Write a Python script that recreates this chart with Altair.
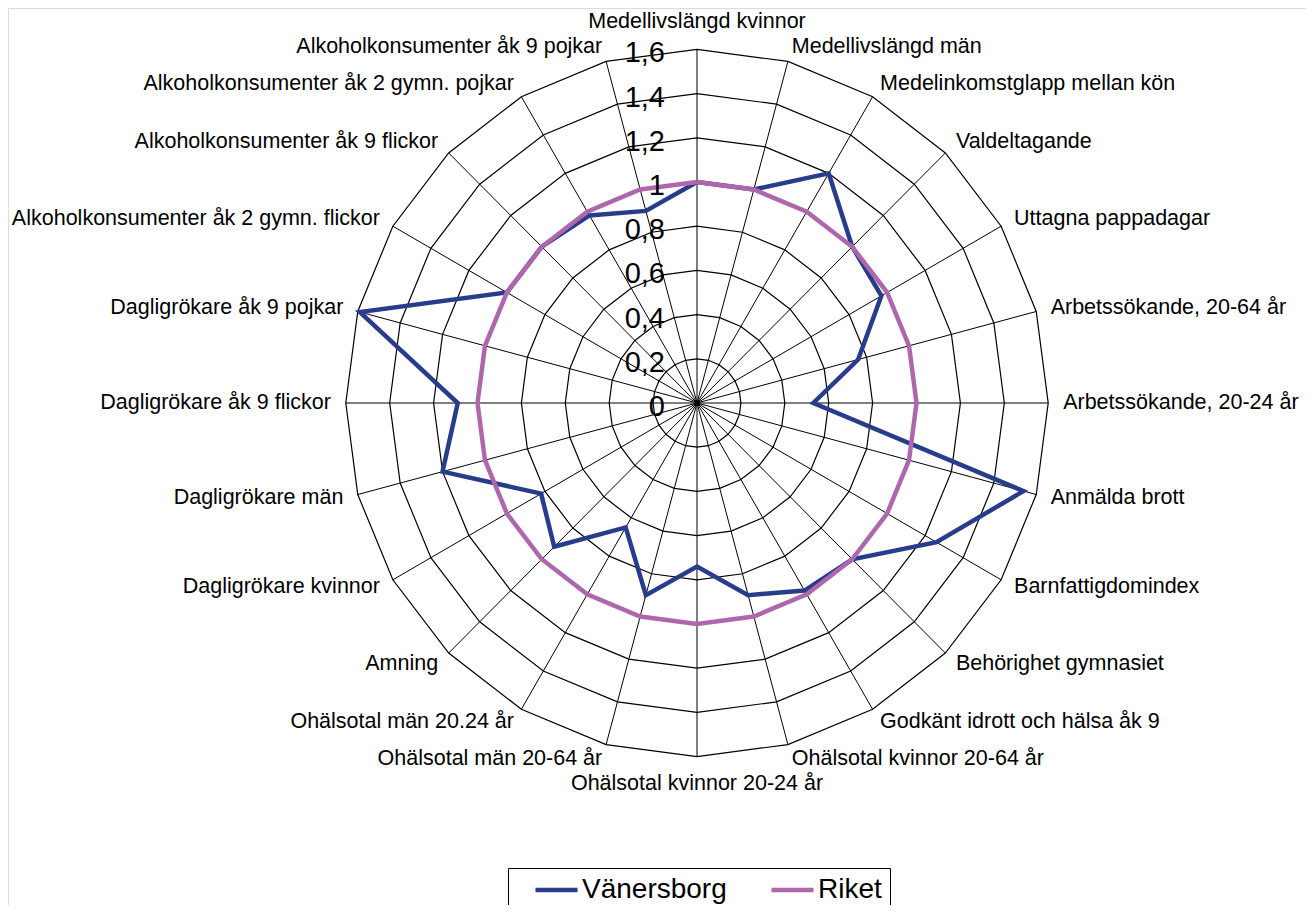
import altair as alt
import pandas as pd

categories = [
    "Medellivslängd kvinnor", "Medellivslängd män", "Medelinkomstglapp mellan kön",
    "Valdeltagande", "Uttagna pappadagar", "Arbetssökande, 20-64 år",
    "Arbetssökande, 20-24 år", "Anmälda brott", "Barnfattigdomindex",
    "Behörighet gymnasiet", "Godkänt idrott och hälsa åk 9", "Ohälsotal kvinnor 20-64 år",
    "Ohälsotal kvinnor 20-24 år", "Ohälsotal män 20-64 år", "Ohälsotal män 20.24 år",
    "Amning", "Dagligrökare kvinnor", "Dagligrökare män",
    "Dagligrökare åk 9 flickor", "Dagligrökare åk 9 pojkar",
    "Alkoholkonsumenter åk 2 gymn. flickor", "Alkoholkonsumenter åk 9 flickor",
    "Alkoholkonsumenter åk 2 gymn. pojkar", "Alkoholkonsumenter åk 9 pojkar",
]
vanersborg = [1.0, 1.0, 1.2, 1.0, 0.97, 0.76, 0.53, 1.54, 1.26, 1.0, 0.98, 0.9,
              0.74, 0.9, 0.65, 0.92, 0.82, 1.2, 1.09, 1.59, 1.0, 1.0, 0.98, 0.9]
riket = [1.0, 1.0, 1.0, 1.0, 1.0, 1.0, 1.0, 1.0, 1.0, 1.0, 1.0, 1.0,
         1.0, 1.0, 1.0, 1.0, 1.0, 1.0, 1.0, 1.0, 1.0, 1.0, 1.0, 1.0]
tick_values = [0, 0.2, 0.4, 0.6, 0.8, 1.0, 1.2, 1.4, 1.6]
tick_labels = ["0", "0,2", "0,4", "0,6", "0,8", "1", "1,2", "1,4", "1,6"]
series_names = ["Vänersborg", "Riket"]
series_colors = ["#283C8C", "#AE67AC"]

n = len(categories)
step = 360.0 / n
rmax = max(tick_values)

# tables built from the arrays above
series_rows = []
for name, vals in zip(series_names, [vanersborg, riket]):
    for k in range(n + 1):
        i = k % n
        series_rows.append({"series": name, "ord": k, "angle": i * step, "value": vals[i]})
series_df = pd.DataFrame(series_rows)

ring_rows = []
for lv in tick_values[1:]:
    for k in range(n + 1):
        ring_rows.append({"level": lv, "ord": k, "angle": (k % n) * step, "value": lv})
ring_df = pd.DataFrame(ring_rows)

spoke_df = pd.DataFrame({"angle": [i * step for i in range(n)], "value": [rmax] * n})
label_df = pd.DataFrame({"category": categories, "angle": [i * step for i in range(n)]})
tick_df = pd.DataFrame({"value": tick_values, "label": tick_labels})

W, H = 1298, 897
cx, cy = 689.0, 395.0
kx, ky = 219.5, 221.0
xs = alt.Scale(domain=[-cx / kx, (W - cx) / kx], nice=False, zero=False)
ys = alt.Scale(domain=[-(H - cy) / ky, cy / ky], nice=False, zero=False)

FONT = "Liberation Sans"

def xy(ch, rexpr="datum.value"):
    return ch.transform_calculate(
        px=f"{rexpr}*sin(datum.angle*PI/180)",
        py=f"{rexpr}*cos(datum.angle*PI/180)",
    )

X = alt.X("px:Q", scale=xs, axis=None)
Y = alt.Y("py:Q", scale=ys, axis=None)

rings = xy(alt.Chart(ring_df).mark_line(color="black", strokeWidth=1.2)).encode(
    x=X, y=Y, detail="level:N", order="ord:Q"
)

spokes = alt.Chart(spoke_df).mark_rule(color="black", strokeWidth=1.0).transform_calculate(
    px="datum.value*sin(datum.angle*PI/180)",
    py="datum.value*cos(datum.angle*PI/180)",
    zx="0", zy="0",
).encode(
    x=alt.X("zx:Q", scale=xs, axis=None),
    y=alt.Y("zy:Q", scale=ys, axis=None),
    x2="px:Q", y2="py:Q",
)

lines = xy(alt.Chart(series_df).mark_line(strokeWidth=4.5, strokeJoin="miter")).encode(
    x=X, y=Y, order="ord:Q",
    color=alt.Color(
        "series:N",
        scale=alt.Scale(domain=series_names, range=series_colors),
        sort=series_names,
        legend=alt.Legend(
            title=None, orient="none", legendX=500, legendY=860, direction="horizontal",
            symbolType="stroke", symbolSize=1764, symbolStrokeWidth=4.5,
            labelFontSize=28, labelFont=FONT, labelColor="black", labelOffset=2,
            columnPadding=25, padding=8, symbolOffset=17, clipHeight=28,
            strokeColor="black", fillColor="white",
        ),
    ),
)

lab_r = 1.668
lab_rc = 1.725
right_labels = xy(alt.Chart(label_df), str(lab_r)).transform_filter(
    "datum.angle > 0 && datum.angle < 180"
).mark_text(align="left", baseline="middle", fontSize=21.5, font=FONT, color="black").encode(
    x=X, y=Y, text="category:N"
)
left_labels = xy(alt.Chart(label_df), str(lab_r)).transform_filter(
    "datum.angle > 180"
).mark_text(align="right", baseline="middle", fontSize=21.5, font=FONT, color="black").encode(
    x=X, y=Y, text="category:N"
)
center_labels = xy(alt.Chart(label_df), str(lab_rc)).transform_filter(
    "datum.angle == 0 || datum.angle == 180"
).mark_text(align="center", baseline="middle", fontSize=21.5, font=FONT, color="black").encode(
    x=X, y=Y, text="category:N"
)

ticks = alt.Chart(tick_df).transform_calculate(zx="0").mark_text(
    align="right", baseline="middle", dx=-32, dy=4, fontSize=29, font=FONT, color="black"
).encode(
    x=alt.X("zx:Q", scale=xs, axis=None),
    y=alt.Y("value:Q", scale=ys, axis=None),
    text="label:N",
)

chart = alt.layer(
    rings, spokes, lines, ticks, right_labels, left_labels, center_labels
).properties(
    width=W, height=H, autosize=alt.AutoSizeParams(type="none"), padding=0
).configure_view(strokeWidth=0, stroke="transparent").configure(background="white")

chart.save("out.html", embed_options={"renderer": "svg", "actions": False})
